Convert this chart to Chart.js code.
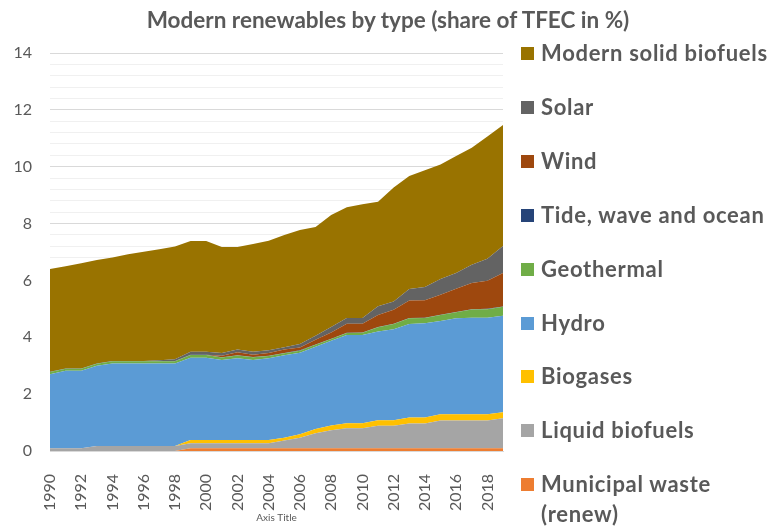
<!DOCTYPE html>
<html>
<head>
<meta charset="utf-8">
<script src="https://cdn.jsdelivr.net/npm/chart.js@4/dist/chart.umd.min.js"></script>
<style>
  html, body { margin: 0; padding: 0; background: #fff; }
  #wrap { position: relative; width: 770px; height: 526px; overflow: hidden; }
  #title { position: absolute; left: 3px; top: 7px; width: 770px; text-align: center; line-height: 26px;
           font-family: Lato, sans-serif; font-weight: bold; font-size: 22.5px; color: #595959; }
  #legend { position: absolute; left: 521px; top: 0; width: 249px; font-family: Lato, sans-serif; font-weight: bold;
            font-size: 22px; letter-spacing: 0.7px; color: #595959; }
  .item { position: absolute; left: 0; line-height: 30px; padding-left: 20px; white-space: nowrap; }
  .box { position: absolute; left: 0; top: 9px; width: 13px; height: 13px; }
</style>
</head>
<body>
<div id="wrap">
  <canvas id="chart" width="770" height="526"></canvas>
  <div id="title">Modern renewables by type (share of TFEC in %)</div>
  <div id="legend"></div>
</div>
<script>
// años y series (% del TFEC)
const years = ['1990','1991','1992','1993','1994','1995','1996','1997','1998','1999',
               '2000','2001','2002','2003','2004','2005','2006','2007','2008','2009',
               '2010','2011','2012','2013','2014','2015','2016','2017','2018','2019'];

const municipalWaste = [0,0,0,0,0,0,0,0,0,0.1, 0.1,0.1,0.1,0.1,0.1,0.1,0.1,0.1,0.1,0.1, 0.1,0.1,0.1,0.1,0.1,0.1,0.1,0.1,0.1,0.1];
const liquidBiofuels = [0.1,0.1,0.1,0.18,0.18,0.18,0.18,0.18,0.18,0.17, 0.17,0.17,0.17,0.17,0.17,0.27,0.37,0.52,0.63,0.7, 0.7,0.79,0.79,0.87,0.87,0.97,0.97,0.97,0.97,1.05];
const biogases = [0,0,0,0,0,0,0,0,0,0.12, 0.12,0.12,0.12,0.12,0.12,0.1,0.12,0.15,0.17,0.18, 0.18,0.19,0.19,0.21,0.21,0.22,0.22,0.22,0.22,0.21];
const hydro = [2.6,2.72,2.72,2.82,2.9,2.9,2.9,2.9,2.9,2.89, 2.89,2.81,2.87,2.81,2.87,2.9,2.87,2.9,2.98,3.1, 3.1,3.12,3.2,3.29,3.31,3.28,3.38,3.4,3.4,3.4];
const geothermal = [0.08,0.07,0.07,0.07,0.08,0.08,0.08,0.08,0.08,0.1, 0.1,0.09,0.1,0.1,0.08,0.07,0.07,0.07,0.06,0.07, 0.08,0.15,0.19,0.2,0.19,0.21,0.21,0.29,0.3,0.31];
const tideWaveOcean = [0.01,0.01,0.01,0.01,0.01,0.01,0.01,0.01,0.01,0.01, 0.01,0.01,0.01,0.01,0.01,0.01,0.01,0.01,0.01,0.01, 0.01,0.01,0.01,0.01,0.01,0.01,0.01,0.01,0.01,0.01];
const wind = [0,0,0,0,0,0,0,0,0,0, 0,0.05,0.1,0.08,0.1,0.12,0.1,0.16,0.22,0.32, 0.31,0.42,0.49,0.61,0.61,0.71,0.82,0.92,0.99,1.18];
const solar = [0,0,0,0,0,0,0,0.02,0.06,0.1, 0.1,0.1,0.1,0.1,0.09,0.08,0.12,0.14,0.19,0.2, 0.2,0.31,0.29,0.41,0.47,0.55,0.55,0.64,0.77,0.95];
const solidBiofuels = [3.61,3.6,3.7,3.64,3.64,3.75,3.84,3.91,3.96,3.9, 3.9,3.73,3.61,3.79,3.86,3.95,4.01,3.83,3.94,3.89, 4.0,3.68,4.01,3.97,4.11,4.03,4.12,4.12,4.3,4.26];

// de abajo hacia arriba
const series = [
  { name: 'Municipal waste (renew)', data: municipalWaste, color: '#ED7D31' },
  { name: 'Liquid biofuels', data: liquidBiofuels, color: '#A5A5A5' },
  { name: 'Biogases', data: biogases, color: '#FFC000' },
  { name: 'Hydro', data: hydro, color: '#5B9BD5' },
  { name: 'Geothermal', data: geothermal, color: '#70AD47' },
  { name: 'Tide, wave and ocean', data: tideWaveOcean, color: '#264478' },
  { name: 'Wind', data: wind, color: '#9E480E' },
  { name: 'Solar', data: solar, color: '#636363' },
  { name: 'Modern solid biofuels', data: solidBiofuels, color: '#997300' }
];

const textColor = '#595959';

new Chart(document.getElementById('chart'), {
  type: 'line',
  data: {
    labels: years,
    datasets: series.map((s, i) => ({
      label: s.name,
      data: s.data,
      backgroundColor: s.color,
      borderColor: 'rgba(0,0,0,0)',
      borderWidth: 1,
      pointRadius: 0,
      tension: 0,
      fill: i === 0 ? 'origin' : '-1'
    }))
  },
  options: {
    responsive: false,
    animation: false,
    devicePixelRatio: 1,
    layout: { padding: { left: 0, right: 267, top: 53, bottom: 0 } },
    plugins: {
      legend: { display: false },
      tooltip: { enabled: false },
      title: { display: false }
    },
    scales: {
      x: {
        grid: { display: false },
        border: { display: true, color: '#d9d9d9' },
        ticks: {
          autoSkip: false,
          minRotation: 90,
          maxRotation: 90,
          padding: 15,
          color: textColor,
          font: { family: 'Lato', size: 16 },
          callback: function (v, i) { return i % 2 === 0 ? years[i] : ''; }
        },
        title: {
          display: true,
          text: 'Axis Title',
          color: textColor,
          font: { family: 'Lato', size: 10 },
          padding: { top: 0, bottom: 2 }
        },
        afterFit: (scale) => { scale.height = 75; }
      },
      y: {
        stacked: true,
        min: 0,
        max: 14,
        border: { display: false },
        grid: {
          drawTicks: false,
          color: (ctx) => {
            const v = ctx.tick ? ctx.tick.value : 0;
            return Math.abs(v / 2 - Math.round(v / 2)) < 1e-6 ? '#d9d9d9' : '#f0f0f0';
          }
        },
        ticks: {
          stepSize: 0.4,
          autoSkip: false,
          padding: 18,
          color: textColor,
          font: { family: 'Lato', size: 16 },
          callback: (v) => Math.abs(v / 2 - Math.round(v / 2)) < 1e-6 ? String(Math.round(v)) : ''
        },
        afterFit: (scale) => { scale.width = 50; }
      }
    }
  }
});

// leyenda en HTML (orden inverso, como en Excel)
const legend = document.getElementById('legend');
series.slice().reverse().forEach((s, i) => {
  const item = document.createElement('div');
  item.className = 'item';
  item.style.top = (38 + i * 53.9) + 'px';
  const box = document.createElement('span');
  box.className = 'box';
  box.style.background = s.color;
  item.appendChild(box);
  const parts = s.name === 'Municipal waste (renew)' ? ['Municipal waste', '(renew)'] : [s.name];
  parts.forEach((p, j) => {
    if (j > 0) item.appendChild(document.createElement('br'));
    item.appendChild(document.createTextNode(p));
  });
  legend.appendChild(item);
});
</script>
</body>
</html>
